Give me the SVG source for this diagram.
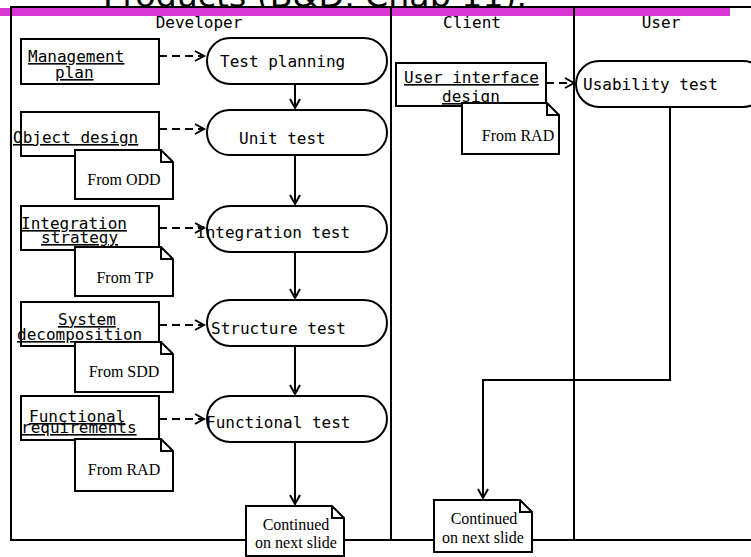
<svg xmlns="http://www.w3.org/2000/svg" width="751" height="557" viewBox="0 0 751 557">
<defs>
<marker id="arr" markerUnits="userSpaceOnUse" markerWidth="12" markerHeight="12" refX="9" refY="5" orient="auto" overflow="visible">
<path d="M0,0 L9,5 L0,10" fill="none" stroke="#000" stroke-width="2"/>
</marker>
<style>
.ln{fill:none;stroke:#000;stroke-width:2}
.box{fill:#fff;stroke:#000;stroke-width:2}
.st{fill:#fff;stroke:#000;stroke-width:2}
.note{fill:#fff;stroke:#000;stroke-width:2;stroke-linejoin:miter}
.m{font-family:"DejaVu Sans Mono","Liberation Mono",monospace;font-size:16px;fill:#000}
.u{text-decoration:underline}
.s{font-family:"Liberation Serif","Times New Roman",serif;font-size:16px;fill:#000;text-anchor:middle}
.h{font-family:"DejaVu Sans Mono","Liberation Mono",monospace;font-size:16px;fill:#000;text-anchor:middle}
.dash{fill:none;stroke:#000;stroke-width:2;stroke-dasharray:8 5}
</style>
</defs>
<rect width="751" height="557" fill="#fff"/>
<text x="103" y="7" font-family="DejaVu Sans, sans-serif" font-size="32" textLength="424" lengthAdjust="spacingAndGlyphs">Products (B&amp;D, Chap 11).</text>
<rect x="0" y="8" width="730" height="8" fill="#d936d3"/>
<g id="frame">
<rect x="11" y="7" width="760" height="533" class="ln"/>
<line x1="391" y1="7" x2="391" y2="540" class="ln"/>
<line x1="574" y1="7" x2="574" y2="540" class="ln"/>
<text x="199" y="28" class="h">Developer</text>
<text x="472" y="28" class="h">Client</text>
<text x="661" y="28" class="h">User</text>
</g>
<g id="connectors">
<line x1="159" y1="56" x2="204" y2="56" class="dash" marker-end="url(#arr)"/>
<line x1="159" y1="129" x2="204" y2="129" class="dash" marker-end="url(#arr)"/>
<line x1="159" y1="228" x2="204" y2="228" class="dash" marker-end="url(#arr)"/>
<line x1="159" y1="325" x2="204" y2="325" class="dash" marker-end="url(#arr)"/>
<line x1="159" y1="419" x2="204" y2="419" class="dash" marker-end="url(#arr)"/>
<line x1="546" y1="83" x2="574" y2="83" class="dash" marker-end="url(#arr)"/>
<line x1="295" y1="84" x2="295" y2="108" class="ln" marker-end="url(#arr)"/>
<line x1="295" y1="155" x2="295" y2="204" class="ln" marker-end="url(#arr)"/>
<line x1="295" y1="252" x2="295" y2="298" class="ln" marker-end="url(#arr)"/>
<line x1="295" y1="346" x2="295" y2="394" class="ln" marker-end="url(#arr)"/>
<line x1="295" y1="442" x2="295" y2="504" class="ln" marker-end="url(#arr)"/>
<path d="M670,107 V380 H483 V498" class="ln" marker-end="url(#arr)"/>
</g>
<g id="test-planning">
<rect x="207" y="38" width="180" height="46" rx="23" class="st"/>
<text x="220" y="67" class="m">Test planning</text>
</g>
<g id="unit-test">
<rect x="207" y="110" width="180" height="45" rx="22.5" class="st"/>
<text x="239" y="144" class="m">Unit test</text>
</g>
<g id="integration-test">
<rect x="207" y="206" width="180" height="46" rx="23" class="st"/>
<text x="196" y="238" class="m">Integration test</text>
</g>
<g id="structure-test">
<rect x="207" y="300" width="180" height="46" rx="23" class="st"/>
<text x="211" y="334" class="m">Structure test</text>
</g>
<g id="functional-test">
<rect x="207" y="396" width="180" height="46" rx="23" class="st"/>
<text x="206" y="428" class="m">Functional test</text>
</g>
<g id="usability-test">
<rect x="576" y="61" width="190" height="46" rx="23" class="st"/>
<text x="583" y="90" class="m">Usability test</text>
</g>
<g id="management-plan">
<rect x="21" y="39" width="138" height="45" class="box"/>
<text x="28" y="62" class="m u">Management</text>
<text x="55" y="78" class="m u">plan</text>
</g>
<g id="object-design">
<rect x="21" y="112" width="138" height="44" class="box"/>
<text x="13" y="143" class="m u">Object design</text>
</g>
<g id="note-odd">
<path d="M75,150 H161 L173,162 V199 H75 Z M161,150 V162 H173" class="note"/>
<text x="124" y="185" class="s">From ODD</text>
</g>
<g id="integration-strategy">
<rect x="21" y="206" width="138" height="44" class="box"/>
<text x="21" y="229" class="m u">Integration</text>
<text x="41" y="243" class="m u">strategy</text>
</g>
<g id="note-tp">
<path d="M75,247 H161 L173,259 V296 H75 Z M161,247 V259 H173" class="note"/>
<text x="125" y="283" class="s">From TP</text>
</g>
<g id="system-decomposition">
<rect x="21" y="302" width="138" height="44" class="box"/>
<text x="58" y="325" class="m u">System</text>
<text x="17" y="340" class="m u">decomposition</text>
</g>
<g id="note-sdd">
<path d="M75,342 H161 L173,354 V392 H75 Z M161,342 V354 H173" class="note"/>
<text x="124" y="377" class="s">From SDD</text>
</g>
<g id="functional-requirements">
<rect x="21" y="396" width="138" height="44" class="box"/>
<text x="29" y="422" class="m u">Functional</text>
<text x="21" y="433" class="m u">requirements</text>
</g>
<g id="note-rad-dev">
<path d="M75,439 H161 L173,451 V491 H75 Z M161,439 V451 H173" class="note"/>
<text x="124" y="475" class="s">From RAD</text>
</g>
<g id="user-interface-design">
<rect x="396" y="63" width="150" height="43" class="box"/>
<text x="404" y="83" class="m u">User interface</text>
<text x="442" y="102" class="m u">design</text>
</g>
<g id="note-rad-client">
<path d="M462,103 H547 L559,115 V154 H462 Z M547,103 V115 H559" class="note"/>
<text x="518" y="141" class="s">From RAD</text>
</g>
<g id="continued-dev">
<path d="M246,506 H332 L344,518 V556 H246 Z M332,506 V518 H344" class="note"/>
<text x="296" y="530" class="s">Continued</text>
<text x="296" y="548" class="s">on next slide</text>
</g>
<g id="continued-client">
<path d="M434,500 H520 L532,512 V552 H434 Z M520,500 V512 H532" class="note"/>
<text x="484" y="524" class="s">Continued</text>
<text x="483" y="543" class="s">on next slide</text>
</g>
</svg>
